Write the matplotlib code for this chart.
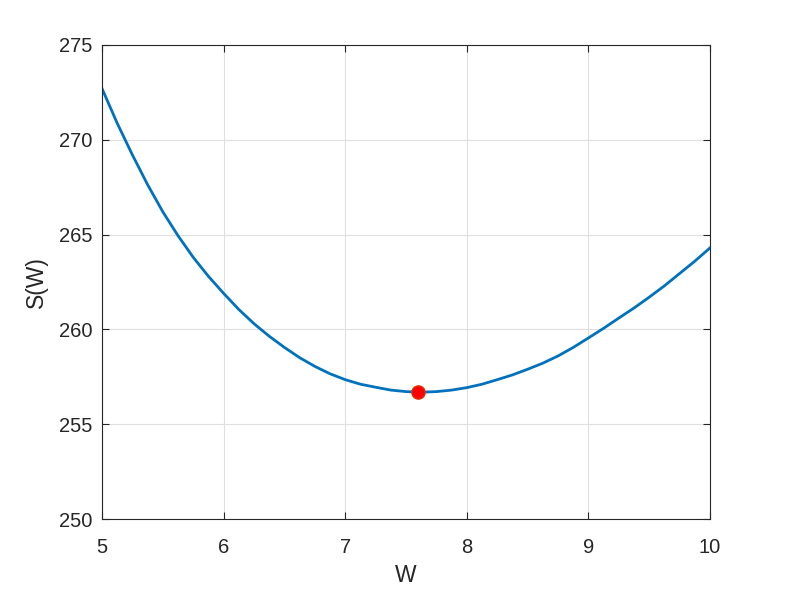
import matplotlib
matplotlib.use('Agg')
import matplotlib.pyplot as plt

# Curve values
w_vals = [5.0, 5.125, 5.25, 5.375, 5.5, 5.625, 5.75, 5.875, 6.0, 6.125,
          6.25, 6.375, 6.5, 6.625, 6.75, 6.875, 7.0, 7.125, 7.25, 7.375,
          7.5, 7.625, 7.75, 7.875, 8.0, 8.125, 8.25, 8.375, 8.5, 8.625,
          8.75, 8.875, 9.0, 9.125, 9.25, 9.375, 9.5, 9.625, 9.75, 9.875, 10.0]
s_vals = [272.7, 270.87, 269.2, 267.63, 266.2, 264.94, 263.8, 262.8, 261.9,
          261.05, 260.3, 259.64, 259.05, 258.51, 258.05, 257.66, 257.35,
          257.11, 256.95, 256.8, 256.72, 256.69, 256.72, 256.8, 256.93,
          257.11, 257.35, 257.6, 257.9, 258.22, 258.6, 259.05, 259.55,
          260.06, 260.6, 261.13, 261.7, 262.3, 262.95, 263.6, 264.3]

# Minimum point
w_min = [7.6]
s_min = [256.68]

x_ticks = [5, 6, 7, 8, 9, 10]
y_ticks = [250, 255, 260, 265, 270, 275]

plt.rcParams['font.family'] = ['Liberation Sans', 'DejaVu Sans']

fig = plt.figure(figsize=(7.85, 5.89), dpi=100)
ax = fig.add_axes([0.13, 0.1188, 0.7745, 0.8048])

ax.plot(w_vals, s_vals, color='#0072BD', linewidth=2.0)
ax.plot(w_min, s_min, 'o', color='#FF0000', markeredgecolor='#E03000',
        markersize=9.5, zorder=3)

ax.set_xlim(5, 10)
ax.set_ylim(250, 275)
ax.set_xticks(x_ticks)
ax.set_yticks(y_ticks)
ax.grid(True, color='#DFDFDF', linewidth=0.8)
ax.set_axisbelow(True)

for sp in ax.spines.values():
    sp.set_color('#262626')
    sp.set_linewidth(0.8)
ax.tick_params(direction='in', length=5, width=0.8, colors='#262626',
               labelsize=14.5, top=True, right=True)
ax.tick_params(axis='x', pad=13.5)
ax.tick_params(axis='y', pad=7)

ax.set_xlabel('W', fontsize=16.5, color='#262626', labelpad=5)
ax.set_ylabel('S(W)', fontsize=16.5, color='#262626', labelpad=8)

fig.savefig('out.png', dpi=100)
